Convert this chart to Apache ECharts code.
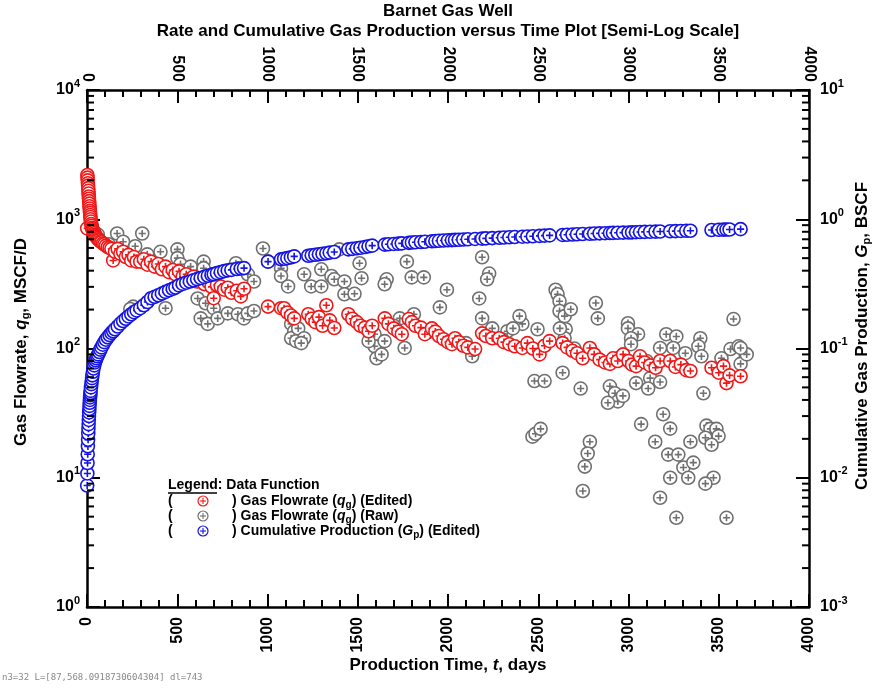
<!DOCTYPE html>
<html>
<head>
<meta charset="utf-8">
<script src="https://cdn.jsdelivr.net/npm/echarts@6.0.0/dist/echarts.min.js"></script>
<style>
  html, body { margin: 0; padding: 0; background: #fff; }
  #chart { width: 876px; height: 688px; }
  #dbg { position: absolute; left: 2px; top: 672px; font: 9px monospace; color: #888; white-space: pre; }
</style>
</head>
<body>
<div id="chart"></div>
<div id="dbg"></div>
<script>
// ---- Edited production data: time (days), gas rate (MSCF/D), cumulative gas (BSCF) ----
const tEdited = [
  1, 2, 3, 4, 5, 6, 7, 8, 9, 10,
  11, 12, 13, 14, 15, 16, 17, 18, 19, 20,
  22, 24, 26, 28, 30, 33, 36, 40, 44, 48,
  52, 57, 62, 68, 74, 80, 88, 96, 105, 115,
  125, 135, 145, 155, 170, 185, 200, 215, 230, 245,
  260, 275, 295, 315, 335, 355, 375, 395, 415, 435,
  455, 475, 490, 510, 530, 550, 570, 590, 610, 630,
  650, 670, 690, 702, 720, 741, 760, 780, 800, 830,
  852, 870, 1003, 1075, 1092, 1110, 1130, 1148, 1226, 1245,
  1265, 1285, 1305, 1326, 1345, 1370, 1448, 1470, 1495, 1515,
  1540, 1560, 1580, 1650, 1670, 1700, 1725, 1744, 1783, 1800,
  1820, 1850, 1872, 1911, 1930, 1950, 1975, 2000, 2022, 2039,
  2060, 2085, 2110, 2150, 2189, 2210, 2245, 2284, 2310, 2340,
  2370, 2412, 2440, 2470, 2507, 2535, 2563, 2635, 2660, 2690,
  2715, 2746, 2786, 2810, 2840, 2870, 2897, 2914, 2940, 2970,
  3000, 3020, 3042, 3064, 3090, 3120, 3150, 3175, 3231, 3260,
  3290, 3320, 3343, 3460, 3500, 3526, 3543, 3560, 3621
];
const qEdited = [
  850, 2200, 2100, 2000, 1900, 1820, 1740, 1660, 1580, 1500,
  1440, 1380, 1320, 1260, 1210, 1160, 1120, 1080, 1040, 1000,
  960, 920, 890, 860, 840, 820, 800, 780, 760, 745,
  730, 715, 700, 690, 675, 665, 650, 640, 625, 610,
  600, 590, 480, 560, 590, 540, 560, 510, 530, 480,
  510, 470, 470, 490, 445, 470, 430, 450, 410, 430,
  390, 405, 375, 395, 360, 375, 345, 360, 330, 345,
  315, 330, 300, 245, 310, 302, 285, 295, 270, 280,
  253, 290, 211, 205, 205, 190, 180, 171, 184, 170,
  160, 175, 150, 216, 165, 144, 184, 170, 160, 150,
  145, 136, 150, 171, 155, 143, 135, 129, 169, 160,
  150, 145, 129, 143, 135, 125, 118, 112, 108, 120,
  112, 105, 102, 99, 131, 125, 120, 120, 112, 108,
  104, 101, 110, 100, 90, 105, 114, 110, 102, 96,
  92, 84, 101, 90, 82, 78, 76, 84, 80, 90,
  80, 75, 73, 87, 78, 74, 71, 80, 80, 72,
  75, 68, 67, 71, 65, 73, 54, 62, 61
];
const gpEdited = [
  0.0087, 0.0108, 0.013, 0.0152, 0.0175, 0.0197, 0.022, 0.024, 0.026, 0.028,
  0.030, 0.032, 0.034, 0.036, 0.038, 0.040, 0.0418, 0.0435, 0.0452, 0.047,
  0.050, 0.053, 0.056, 0.059, 0.062, 0.066, 0.070, 0.074, 0.078, 0.081,
  0.084, 0.087, 0.090, 0.094, 0.098, 0.102, 0.107, 0.112, 0.117, 0.122,
  0.127, 0.132, 0.136, 0.141, 0.148, 0.156, 0.163, 0.170, 0.177, 0.184,
  0.191, 0.197, 0.205, 0.216, 0.229, 0.245, 0.251, 0.258, 0.266, 0.274,
  0.282, 0.290, 0.296, 0.308, 0.316, 0.323, 0.330, 0.337, 0.344, 0.351,
  0.358, 0.365, 0.372, 0.376, 0.383, 0.390, 0.397, 0.402, 0.406, 0.412,
  0.416, 0.419, 0.470, 0.490, 0.495, 0.500, 0.507, 0.516, 0.522, 0.527,
  0.531, 0.536, 0.541, 0.546, 0.552, 0.558, 0.585, 0.590, 0.596, 0.602,
  0.610, 0.618, 0.625, 0.636, 0.640, 0.644, 0.648, 0.651, 0.657, 0.660,
  0.663, 0.667, 0.670, 0.675, 0.678, 0.681, 0.684, 0.687, 0.690, 0.692,
  0.694, 0.697, 0.700, 0.704, 0.708, 0.711, 0.715, 0.719, 0.722, 0.725,
  0.729, 0.733, 0.736, 0.739, 0.743, 0.747, 0.750, 0.756, 0.759, 0.762,
  0.765, 0.768, 0.772, 0.775, 0.778, 0.780, 0.782, 0.784, 0.786, 0.788,
  0.790, 0.792, 0.794, 0.796, 0.798, 0.800, 0.802, 0.804, 0.808, 0.810,
  0.812, 0.814, 0.815, 0.826, 0.829, 0.831, 0.832, 0.833, 0.838
];

// ---- Raw (unedited) rate data: time (days), gas rate (MSCF/D) ----
const tRaw = [
  60, 120, 167, 306, 200, 267, 334, 501, 501, 518, 646, 646,
  256, 240, 435, 613, 657, 702, 630, 669, 724, 780,
  836, 869, 891, 925, 825, 836, 891, 925, 975, 1003,
  1075, 1075, 1114, 1131, 1148, 1131, 1159, 1170, 1203, 1187,
  1203, 1242, 1298, 1298, 1354, 1370, 1426, 1426, 1482, 1510,
  1521, 1398, 1593, 1593, 1604, 1560, 1632, 1772, 1799, 1866,
  1660, 1649, 1994, 1955, 2173, 2189, 2228, 2217, 2189, 1811,
  1733, 1760, 1649, 2134, 2245, 2329, 2412, 2496, 2396, 2596,
  2607, 2618, 2618, 2646, 2680, 2652, 2646, 2819, 2830, 2997,
  2997, 3053, 3014, 3014, 3209, 3265, 3175, 3248, 3315, 3398,
  3387, 3404, 3582, 3565, 3610, 3649, 3621, 3515, 3415, 2479,
  2535, 2635, 2735, 2897, 2925, 2941, 2969, 2886, 3042, 3120,
  3175, 3109, 2468, 2485, 2513, 2786, 2774, 2758, 2747, 3070,
  3192, 3231, 3148, 3220, 3276, 3304, 3359, 3231, 3331, 3175,
  3265, 3343, 3432, 3454, 3487, 3426, 3499, 3460, 3471, 3426,
  3543, 3655, 3621, 407, 574, 713, 2620, 2360, 1700, 1900,
  2100, 2300, 2700, 2950, 3100, 3300
];
const qRaw = [
  760, 640, 776, 776, 670, 618, 535, 585, 500, 449, 470, 418,
  211, 202, 205, 244, 224, 205, 171, 155, 171, 187,
  184, 171, 187, 195, 457, 418, 375, 330, 594, 470,
  418, 364, 302, 155, 136, 120, 114, 143, 120, 110,
  375, 302, 410, 302, 364, 343, 330, 263, 265, 457,
  350, 585, 129, 104, 84, 114, 90, 470, 355, 355,
  343, 314, 285, 208, 244, 508, 380, 343, 171, 184,
  171, 101, 114, 87, 143, 136, 155, 141, 178, 285,
  263, 232, 195, 178, 201, 141, 120, 225, 171, 157,
  143, 129, 120, 108, 129, 124, 101, 101, 92, 120,
  104, 87, 169, 99, 104, 90, 76, 84, 45, 56,
  56, 65, 49, 51, 45, 39, 43, 38, 54, 59,
  55, 49, 20.8, 21.9, 23.9, 19.0, 15.4, 12.2, 7.9, 26,
  31, 24, 19, 15.1, 15.1, 12, 13.1, 10.0, 10.0, 7.0,
  4.9, 19, 25.3, 23.9, 23.9, 20.4, 21, 18, 10, 9,
  4.9, 90, 101, 560, 430, 364, 143, 143, 150, 135,
  110, 118, 100, 85, 80, 72
];

// ---- Axis ranges ----
const timeRange = [0, 4000];
const timeStep = 500;
const rateRange = [1, 10000];        // MSCF/D, four decades
const cumRange = [0.001, 10];        // BSCF, four decades

const FONT = '"Liberation Sans", Arial, Helvetica, sans-serif';
const RED = '#f01818';
const GRAY = '#707070';
const BLUE = '#1414e6';
// circle with a plus sign inside
const plusCircle = 'path://M10,0A10,10 0 1,1 -10,0A10,10 0 1,1 10,0Z M-5.5,0L5.5,0 M0,-5.5L0,5.5';

function pairs(xs, ys) { return xs.map((x, i) => [x, ys[i]]); }
function bold(size) { return { fontFamily: FONT, fontWeight: 'bold', fontSize: size, color: '#000' }; }

// 2..9 multiples inside every decade of the rate axis (minor ticks)
const minorRateValues = [];
for (let base = rateRange[0]; base < rateRange[1]; base *= 10) {
  for (let m = 2; m <= 9; m++) minorRateValues.push(m * base);
}

const lineStyle = { color: '#000', width: 2.5 };
const tickStyle = { color: '#000', width: 2 };
const powerLabel = v => '{b|10}{s|' + Math.round(Math.log10(v)) + '}';
const powerRich = {
  b: bold(16),
  s: Object.assign(bold(11), { padding: [0, 0, 13, 0] })
};

function timeAxis(position, margin) {
  return {
    type: 'value', position: position,
    min: timeRange[0], max: timeRange[1], interval: timeStep,
    axisLine: { show: true, onZero: false, lineStyle: lineStyle },
    axisTick: { show: true, inside: true, length: 13, lineStyle: tickStyle },
    minorTick: { show: true, splitNumber: 5, length: 7, lineStyle: tickStyle },
    axisLabel: Object.assign({ show: true, rotate: 90, margin: margin, formatter: v => String(v) }, bold(16)),
    splitLine: { show: false }, minorSplitLine: { show: false }
  };
}
function decadeAxis(position, range, margin) {
  return {
    type: 'log', logBase: 10, position: position, min: range[0], max: range[1],
    axisLine: { show: true, onZero: false, lineStyle: lineStyle },
    axisTick: { show: true, inside: true, length: 13, lineStyle: tickStyle },
    axisLabel: { show: true, margin: margin, formatter: powerLabel, rich: powerRich },
    splitLine: { show: false }
  };
}
function markerSeries(name, data, yAxisIndex, color, z) {
  return {
    name: name, type: 'scatter', xAxisIndex: 0, yAxisIndex: yAxisIndex, data: data,
    symbol: plusCircle, symbolSize: 13, z: z, silent: true,
    itemStyle: { color: '#ffffff', borderColor: color, borderWidth: 1.6, opacity: 1 }
  };
}
// short inward tick marks on a vertical frame side, one per minor value
function minorTickMarks(timeEdge, inward) {
  return {
    type: 'scatter', xAxisIndex: 0, yAxisIndex: 0, silent: true, clip: false, z: 10,
    data: minorRateValues.map(v => [timeEdge, v]),
    symbol: 'rect', symbolSize: [7, 2], symbolOffset: [inward * 3.5, 0],
    itemStyle: { color: '#000', opacity: 1 }
  };
}

const richName = {
  i: Object.assign(bold(17), { fontStyle: 'italic' }),
  sub: Object.assign(bold(11), { padding: [10, 0, 0, 0] })
};
const richLegend = {
  i: Object.assign(bold(14), { fontStyle: 'italic' }),
  sub: Object.assign(bold(10), { padding: [8, 0, 0, 0] })
};

function textEl(x, y, text, size, align, rotation, rich) {
  return {
    type: 'text', x: x, y: y, rotation: rotation || 0,
    style: {
      text: text, fill: '#000', fontFamily: FONT, fontWeight: 'bold', fontSize: size,
      align: align, verticalAlign: 'middle', rich: rich || {}
    }
  };
}
function legendMarker(x, y, color) {
  return {
    type: 'group', x: x, y: y,
    children: [
      { type: 'circle', shape: { cx: 0, cy: 0, r: 5 }, style: { fill: '#fff', stroke: color, lineWidth: 1.2 } },
      { type: 'line', shape: { x1: -3, y1: 0, x2: 3, y2: 0 }, style: { stroke: color, lineWidth: 1.1 } },
      { type: 'line', shape: { x1: 0, y1: -3, x2: 0, y2: 3 }, style: { stroke: color, lineWidth: 1.1 } }
    ]
  };
}

const legendRows = [
  { y: 501, color: RED, text: ') Gas Flowrate ({i|q}{sub|g}) (Edited)' },
  { y: 516, color: GRAY, text: ') Gas Flowrate ({i|q}{sub|g}) (Raw)' },
  { y: 531, color: BLUE, text: ') Cumulative Production ({i|G}{sub|p}) (Edited)' }
];

const graphics = [
  textEl(448, 11, 'Barnet Gas Well', 17, 'center'),
  textEl(448, 31, 'Rate and Cumulative Gas Production versus Time Plot [Semi-Log Scale]', 17, 'center'),
  textEl(448, 665, 'Production Time, {i|t}, days', 17, 'center', 0, richName),
  textEl(21, 342, 'Gas Flowrate, {i|q}{sub|g}, MSCF/D', 17, 'center', Math.PI / 2, richName),
  textEl(862, 336, 'Cumulative Gas Production, {i|G}{sub|p}, BSCF', 17, 'center', Math.PI / 2, richName),
  textEl(168, 485, 'Legend: Data Function', 14, 'left'),
  { type: 'line', shape: { x1: 168, y1: 493, x2: 217, y2: 493 }, style: { stroke: '#000', lineWidth: 1.3 } }
];
legendRows.forEach(row => {
  graphics.push(textEl(168, row.y, '(', 14, 'left'));
  graphics.push(legendMarker(203, row.y, row.color));
  graphics.push(textEl(232, row.y, row.text, 14, 'left', 0, richLegend));
});

const info = [];
const chart = echarts.init(document.getElementById('chart'), null, { renderer: 'canvas', width: 876, height: 688 });
try {
  chart.setOption({
    animation: false,
    grid: { left: 87, right: 67, top: 90, bottom: 81, containLabel: false },
    xAxis: [timeAxis('bottom', 10), timeAxis('top', 8)],
    yAxis: [
      decadeAxis('left', rateRange, 7),
      decadeAxis('right', cumRange, 11)
    ],
    series: [
      markerSeries('Gas Flowrate (Raw)', pairs(tRaw, qRaw), 0, GRAY, 2),
      markerSeries('Gas Flowrate (Edited)', pairs(tEdited, qEdited), 0, RED, 3),
      markerSeries('Cumulative Production (Edited)', pairs(tEdited, gpEdited), 1, BLUE, 4),
      minorTickMarks(timeRange[0], 1),
      minorTickMarks(timeRange[1], -1)
    ],
    graphic: graphics
  });
  const s3 = chart.getModel().getSeriesByIndex(3);
  info.push('n3=' + s3.getData().count() + ' L=' + JSON.stringify(s3.getData().getItemLayout(0)) + ' dl=' + chart.getZr().storage.getDisplayList(true).length);
} catch (e) { info.push('ERR ' + e.message); }
document.getElementById('dbg').textContent = info.join(' ');
</script>
</body>
</html>
